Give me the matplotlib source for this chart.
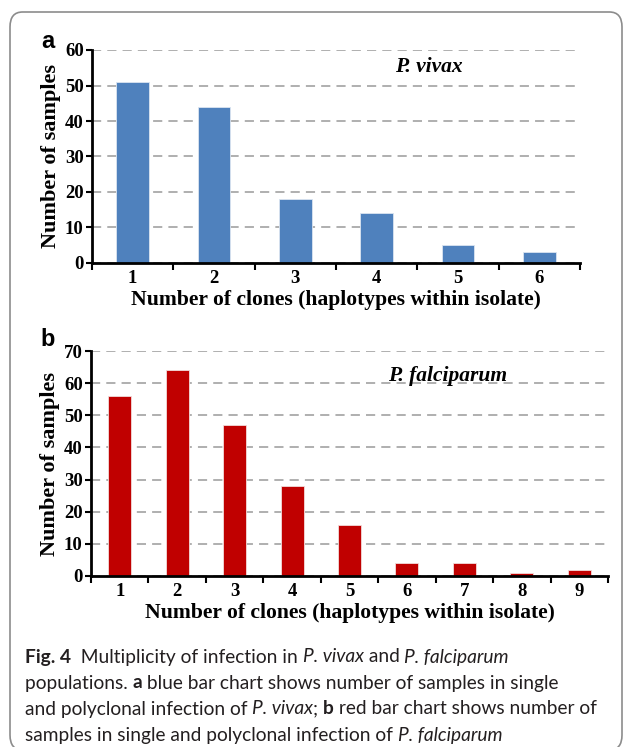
"""
Multiplicity of infection (P. vivax / P. falciparum) - two bar panels plus caption.
"""

import matplotlib
matplotlib.use("Agg")
import matplotlib.pyplot as plt
from matplotlib.patches import FancyBboxPatch
import numpy as np

# dados
clones_vivax = [1, 2, 3, 4, 5, 6]
amostras_vivax = [51, 44, 18, 14, 5, 3]

clones_falc = [1, 2, 3, 4, 5, 6, 7, 8, 9]
amostras_falc = [56, 64, 47, 28, 16, 4, 4, 1, 2]

yticks_vivax = [0, 10, 20, 30, 40, 50, 60]
yticks_falc = [0, 10, 20, 30, 40, 50, 60, 70]

rotulo_x = "Number of clones (haplotypes within isolate)"
rotulo_y = "Number of samples"

AZUL = "#4f81bd"
VERMELHO = "#c00000"
SERIF = "Liberation Serif"
SANS = ["Lato", "Noto Sans", "DejaVu Sans"]

W, H = 627, 747


def painel(fig, rect, x, y, yticks, cor, borda, especie, letra, letra_pos, esp_pos):
    ax = fig.add_axes(rect)
    ax.bar(x, y, width=0.4, color=cor, edgecolor=borda, linewidth=0.6, zorder=3)

    ax.set_xlim(0.5, len(x) + 0.5)
    ax.set_ylim(yticks[0], yticks[-1])
    ax.set_yticks(yticks)
    ax.set_xticks(x)
    ax.set_xticks(np.arange(0.5, len(x) + 1, 1.0), minor=True)

    ax.tick_params(axis="x", which="major", length=0, pad=5)
    ax.tick_params(axis="x", which="minor", length=5, width=1.5, direction="out")
    ax.tick_params(axis="y", length=4, width=1.5, direction="out", pad=2)
    for lab in ax.get_xticklabels() + ax.get_yticklabels():
        lab.set_fontfamily(SERIF)
        lab.set_fontweight("bold")
        lab.set_fontsize(13.5)

    ax.yaxis.grid(True, linestyle=(0, (6, 4)), color="#9a9a9a", linewidth=1.1, zorder=0)
    ax.set_axisbelow(True)
    for s in ["top", "right"]:
        ax.spines[s].set_visible(False)
    for s in ["left", "bottom"]:
        ax.spines[s].set_linewidth(2)
        ax.spines[s].set_zorder(4)

    ax.set_xlabel(rotulo_x, fontfamily=SERIF, fontweight="bold", fontsize=15.6, labelpad=2)
    ax.set_ylabel(rotulo_y, fontfamily=SERIF, fontweight="bold", fontsize=16, labelpad=3)

    ax.text(esp_pos[0], esp_pos[1], especie, transform=ax.transAxes, ha="center", va="center",
            fontfamily=SERIF, fontweight="bold", fontstyle="italic", fontsize=15.5)
    fig.text(letra_pos[0] / W, 1 - letra_pos[1] / H, letra, ha="center", va="center",
             fontfamily=["Liberation Sans", "DejaVu Sans"], fontweight="bold", fontsize=17)
    return ax


def legenda(fig, linhas, x0, y0, passo, tamanho):
    """Escreve a legenda em trechos (negrito / itálico) lado a lado."""
    fig.canvas.draw()
    renderer = fig.canvas.get_renderer()
    for i, trechos in enumerate(linhas):
        x = x0
        y = 1 - (y0 + i * passo) / H
        for txt, peso, estilo in trechos:
            t = fig.text(x / W, y, txt, ha="left", va="center", fontfamily=SANS,
                         fontweight=peso, fontstyle=estilo, fontsize=tamanho, color="#231f20")
            bb = t.get_window_extent(renderer)
            x += bb.width


fig = plt.figure(figsize=(W / 100, H / 100), dpi=100)

caixa = FancyBboxPatch((10 / W, -3 / H), 612 / W, 738 / H,
                       boxstyle="round,pad=0,rounding_size=0.02",
                       transform=fig.transFigure, facecolor="none",
                       edgecolor="#8c8c8c", linewidth=1.2)
fig.patches.append(caixa)

painel(fig, [92 / W, 1 - 263 / H, (580 - 92) / W, (263 - 50) / H],
       clones_vivax, amostras_vivax, yticks_vivax, AZUL, "#dbe5f1",
       "P. vivax", "a", (48, 42), (0.69, 0.92))
painel(fig, [91 / W, 1 - 576 / H, (608 - 91) / W, (576 - 351) / H],
       clones_falc, amostras_falc, yticks_falc, VERMELHO, "#f2dcdb",
       "P. falciparum", "b", (48, 340), (0.69, 0.89))

N, B, I = "normal", "bold", "italic"
linhas = [
    [("Fig. 4", B, N), ("  Multiplicity of infection in ", N, N), ("P. vivax", N, I),
     (" and ", N, N), ("P. falciparum", N, I)],
    [("populations. ", N, N), ("a", B, N), (" blue bar chart shows number of samples in single", N, N)],
    [("and polyclonal infection of ", N, N), ("P. vivax", N, I), ("; ", N, N), ("b", B, N),
     (" red bar chart shows number of", N, N)],
    [("samples in single and polyclonal infection of ", N, N), ("P. falciparum", N, I)],
]
legenda(fig, linhas, 25, 657, 26, 13.75)

fig.savefig("out.png", dpi=100)
